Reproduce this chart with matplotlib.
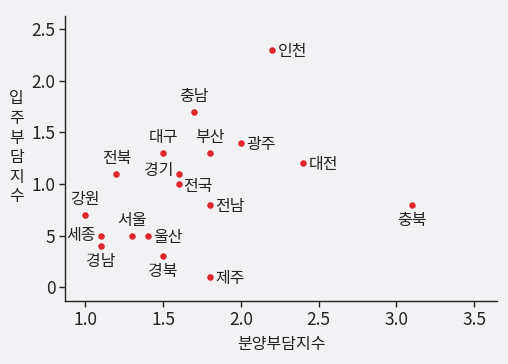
import matplotlib.pyplot as plt

plt.rcParams['font.family'] = ['Noto Sans CJK KR', 'DejaVu Sans']

# 지역별 분양부담지수 / 입주부담지수
regions = ['인천', '충남', '대구', '부산', '광주', '전북', '경기', '전국', '대전',
           '강원', '전남', '충북', '서울', '울산', '세종', '경남', '경북', '제주']
x_vals = [2.2, 1.7, 1.5, 1.8, 2.0, 1.2, 1.6, 1.6, 2.4,
          1.0, 1.8, 3.1, 1.3, 1.4, 1.1, 1.1, 1.5, 1.8]
y_vals = [2.3, 1.7, 1.3, 1.3, 1.4, 1.1, 1.1, 1.0, 1.2,
          0.7, 0.8, 0.8, 0.5, 0.5, 0.5, 0.4, 0.3, 0.1]
# 라벨 위치 (위/아래/좌/우)
where = ['right', 'top', 'top', 'top', 'right', 'top', 'left', 'right', 'right',
         'top', 'right', 'bottom', 'top', 'right', 'left', 'bottom', 'bottom', 'right']

x_ticks = [1.0, 1.5, 2.0, 2.5, 3.0, 3.5]
x_ticklabels = ['1.0', '1.5', '2.0', '2.5', '3.0', '3.5']
y_ticks = [0, 0.5, 1.0, 1.5, 2.0, 2.5]
y_ticklabels = ['0', '5', '1.0', '1.5', '2.0', '2.5']

bg = '#f2f2f5'
fig = plt.figure(figsize=(5.08, 3.64), dpi=100, facecolor=bg)
ax = fig.add_axes([65/508, 63/364, 432/508, 285/364], facecolor=bg)

ax.scatter(x_vals, y_vals, s=22, color='#e0262b', zorder=3, linewidths=0)

offsets = {'right': ((4, -1), 'left', 'center'),
           'left': ((-4, 0), 'right', 'center'),
           'top': ((0, 5), 'center', 'bottom'),
           'bottom': ((0, -5), 'center', 'top')}
for name, xv, yv, w in zip(regions, x_vals, y_vals, where):
    off, ha, va = offsets[w]
    if name == '경기':
        off = (-4, 2)
    if name == '전국':
        off = (3, -2)
    ax.annotate(name, (xv, yv), xytext=off, textcoords='offset points',
                ha=ha, va=va, fontsize=11.5, color='#222222')

ax.set_xlim(0.869, 3.648)
ax.set_ylim(-0.133, 2.629)
ax.set_xticks(x_ticks)
ax.set_xticklabels(x_ticklabels)
ax.set_yticks(y_ticks)
ax.set_yticklabels(y_ticklabels)
ax.tick_params(labelsize=12.5, length=4, width=1, pad=3,
               color='#222222', labelcolor='#222222')

for s in ['top', 'right']:
    ax.spines[s].set_visible(False)
for s in ['left', 'bottom']:
    ax.spines[s].set_color('#222222')
    ax.spines[s].set_linewidth(1)

ax.set_xlabel('분양부담지수', fontsize=11.5, color='#222222', labelpad=5)
fig.text(16.5/508, 1 - 148/364, '입\n주\n부\n담\n지\n수', fontsize=11.5,
         color='#222222', ha='center', va='center', linespacing=1.2)

fig.savefig('out.png', dpi=100, facecolor=bg)
